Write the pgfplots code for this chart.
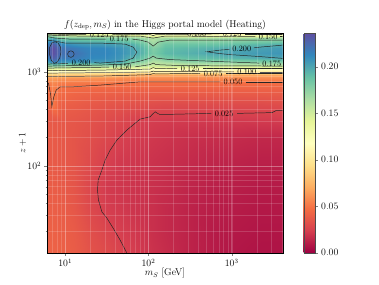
\documentclass[border=0pt,12pt]{standalone}
\usepackage{pgfplots}
\pgfplotsset{compat=1.18}
\pgfplotsset{
  cont/.style={black!85, line width=0.6pt, no markers},
}
\tikzset{lab/.style={font=\fontsize{10}{11}\selectfont, inner sep=0pt, text=black}}
\begin{document}
\begin{tikzpicture}
\useasboundingbox (0,0) rectangle (6.4in,4.8in);
\begin{axis}[
  at={(0.799in,0.533in)}, anchor=south west,
  scale only axis, width=3.975in, height=3.705in,
  xmode=log, ymode=log,
  xmin=6.1, xmax=4100, ymin=11.9, ymax=2570,
  axis on top,
  tick align=outside, xtick pos=bottom, ytick pos=left,
  major tick length=3.5pt, minor tick length=2pt,
  grid=both,
  major grid style={white, opacity=0.22, line width=0.5pt},
  minor grid style={white, opacity=0.16, line width=0.45pt},
  colormap={spectral}{rgb255=(158,1,66) rgb255=(213,62,79) rgb255=(244,109,67) rgb255=(253,174,97) rgb255=(254,224,139) rgb255=(255,255,191) rgb255=(230,245,152) rgb255=(171,221,164) rgb255=(102,194,165) rgb255=(50,136,189) rgb255=(94,79,162)},
  point meta min=0, point meta max=0.236,
  colorbar,
  colorbar style={
    at={(parent axis.north east)}, anchor=north west, xshift=0.236in,
    scale only axis, width=0.19in, height=3.705in,
    ytick={0,0.05,0.1,0.15,0.2},
    yticklabel style={/pgf/number format/.cd, fixed, fixed zerofill, precision=2},
    tick align=outside, major tick length=3.5pt,
    ytick pos=right, yticklabel pos=right,
    axis line style={black!70},
  },
  title={$f(z_{\mathrm{dep}}, m_S)$ in the Higgs portal model (Heating)},
  xlabel={$m_S$ [GeV]}, ylabel={$z+1$},
  every axis title/.style={at={(axis description cs:0.5,1.027)}, anchor=base},
  every axis x label/.style={at={(axis description cs:0.5,-0.105)}, anchor=base},
  every axis y label/.style={at={(axis description cs:-0.0928,0.5)}, rotate=90, anchor=base},
]
\addplot[surf, shader=interp, mesh/cols=16, point meta=explicit] coordinates {
(6.1,11.9)[0.042] (7.08,11.9)[0.042] (8.91,11.9)[0.041] (12.6,11.9)[0.039] (20.0,11.9)[0.034] (31.6,11.9)[0.030] (44.7,11.9)[0.027] (63.1,11.9)[0.024] (89.1,11.9)[0.021] (115,11.9)[0.019] (158,11.9)[0.017] (316,11.9)[0.013] (631,11.9)[0.010] (1259,11.9)[0.008] (2239,11.9)[0.007] (4100,11.9)[0.007]
(6.1,20)[0.041] (7.08,20)[0.041] (8.91,20)[0.040] (12.6,20)[0.038] (20.0,20)[0.032] (31.6,20)[0.027] (44.7,20)[0.024] (63.1,20)[0.022] (89.1,20)[0.020] (115,20)[0.018] (158,20)[0.016] (316,20)[0.013] (631,20)[0.010] (1259,20)[0.009] (2239,20)[0.008] (4100,20)[0.008]
(6.1,35.5)[0.040] (7.08,35.5)[0.040] (8.91,35.5)[0.039] (12.6,35.5)[0.036] (20.0,35.5)[0.029] (31.6,35.5)[0.0235] (44.7,35.5)[0.022] (63.1,35.5)[0.020] (89.1,35.5)[0.019] (115,35.5)[0.018] (158,35.5)[0.016] (316,35.5)[0.013] (631,35.5)[0.011] (1259,35.5)[0.010] (2239,35.5)[0.009] (4100,35.5)[0.009]
(6.1,63.1)[0.039] (7.08,63.1)[0.039] (8.91,63.1)[0.038] (12.6,63.1)[0.035] (20.0,63.1)[0.028] (31.6,63.1)[0.022] (44.7,63.1)[0.021] (63.1,63.1)[0.020] (89.1,63.1)[0.019] (115,63.1)[0.018] (158,63.1)[0.017] (316,63.1)[0.014] (631,63.1)[0.012] (1259,63.1)[0.011] (2239,63.1)[0.010] (4100,63.1)[0.010]
(6.1,112)[0.038] (7.08,112)[0.038] (8.91,112)[0.037] (12.6,112)[0.035] (20.0,112)[0.030] (31.6,112)[0.0245] (44.7,112)[0.022] (63.1,112)[0.021] (89.1,112)[0.020] (115,112)[0.019] (158,112)[0.018] (316,112)[0.016] (631,112)[0.014] (1259,112)[0.013] (2239,112)[0.012] (4100,112)[0.012]
(6.1,200)[0.038] (7.08,200)[0.038] (8.91,200)[0.037] (12.6,200)[0.035] (20.0,200)[0.032] (31.6,200)[0.028] (44.7,200)[0.0248] (63.1,200)[0.023] (89.1,200)[0.022] (115,200)[0.021] (158,200)[0.020] (316,200)[0.018] (631,200)[0.017] (1259,200)[0.016] (2239,200)[0.015] (4100,200)[0.015]
(6.1,316)[0.038] (7.08,316)[0.037] (8.91,316)[0.037] (12.6,316)[0.036] (20.0,316)[0.034] (31.6,316)[0.031] (44.7,316)[0.029] (63.1,316)[0.026] (89.1,316)[0.0245] (115,316)[0.0235] (158,316)[0.023] (316,316)[0.0225] (631,316)[0.0225] (1259,316)[0.0225] (2239,316)[0.023] (4100,316)[0.0235]
(6.1,447)[0.041] (7.08,447)[0.050] (8.91,447)[0.040] (12.6,447)[0.039] (20.0,447)[0.037] (31.6,447)[0.035] (44.7,447)[0.034] (63.1,447)[0.033] (89.1,447)[0.032] (115,447)[0.031] (158,447)[0.030] (316,447)[0.030] (631,447)[0.030] (1259,447)[0.030] (2239,447)[0.030] (4100,447)[0.031]
(6.1,631)[0.046] (7.08,631)[0.053] (8.91,631)[0.046] (12.6,631)[0.044] (20.0,631)[0.043] (31.6,631)[0.042] (44.7,631)[0.041] (63.1,631)[0.041] (89.1,631)[0.040] (115,631)[0.040] (158,631)[0.040] (316,631)[0.040] (631,631)[0.040] (1259,631)[0.040] (2239,631)[0.040] (4100,631)[0.040]
(6.1,759)[0.050] (7.08,759)[0.057] (8.91,759)[0.052] (12.6,759)[0.051] (20.0,759)[0.0505] (31.6,759)[0.050] (44.7,759)[0.049] (63.1,759)[0.048] (89.1,759)[0.047] (115,759)[0.047] (158,759)[0.047] (316,759)[0.047] (631,759)[0.047] (1259,759)[0.047] (2239,759)[0.047] (4100,759)[0.047]
(6.1,851)[0.063] (7.08,851)[0.066] (8.91,851)[0.063] (12.6,851)[0.062] (20.0,851)[0.062] (31.6,851)[0.061] (44.7,851)[0.060] (63.1,851)[0.059] (89.1,851)[0.058] (115,851)[0.058] (158,851)[0.058] (316,851)[0.058] (631,851)[0.058] (1259,851)[0.058] (2239,851)[0.058] (4100,851)[0.058]
(6.1,933)[0.082] (7.08,933)[0.084] (8.91,933)[0.081] (12.6,933)[0.080] (20.0,933)[0.080] (31.6,933)[0.078] (44.7,933)[0.075] (63.1,933)[0.072] (89.1,933)[0.068] (115,933)[0.068] (158,933)[0.068] (316,933)[0.068] (631,933)[0.068] (1259,933)[0.068] (2239,933)[0.068] (4100,933)[0.068]
(6.1,1000)[0.107] (7.08,1000)[0.108] (8.91,1000)[0.106] (12.6,1000)[0.105] (20.0,1000)[0.105] (31.6,1000)[0.104] (44.7,1000)[0.103] (63.1,1000)[0.100] (89.1,1000)[0.100] (115,1000)[0.100] (158,1000)[0.100] (316,1000)[0.100] (631,1000)[0.100] (1259,1000)[0.100] (2239,1000)[0.100] (4100,1000)[0.100]
(6.1,1072)[0.138] (7.08,1072)[0.140] (8.91,1072)[0.136] (12.6,1072)[0.135] (20.0,1072)[0.135] (31.6,1072)[0.133] (44.7,1072)[0.130] (63.1,1072)[0.125] (89.1,1072)[0.120] (115,1072)[0.120] (158,1072)[0.120] (316,1072)[0.120] (631,1072)[0.120] (1259,1072)[0.120] (2239,1072)[0.120] (4100,1072)[0.120]
(6.1,1148)[0.170] (7.08,1148)[0.175] (8.91,1148)[0.170] (12.6,1148)[0.165] (20.0,1148)[0.165] (31.6,1148)[0.165] (44.7,1148)[0.163] (63.1,1148)[0.158] (89.1,1148)[0.155] (115,1148)[0.148] (158,1148)[0.152] (316,1148)[0.152] (631,1148)[0.152] (1259,1148)[0.152] (2239,1148)[0.153] (4100,1148)[0.155]
(6.1,1259)[0.200] (7.08,1259)[0.215] (8.91,1259)[0.207] (12.6,1259)[0.205] (20.0,1259)[0.204] (31.6,1259)[0.204] (44.7,1259)[0.202] (63.1,1259)[0.180] (89.1,1259)[0.172] (115,1259)[0.160] (158,1259)[0.165] (316,1259)[0.173] (631,1259)[0.174] (1259,1259)[0.176] (2239,1259)[0.178] (4100,1259)[0.180]
(6.1,1413)[0.215] (7.08,1413)[0.230] (8.91,1413)[0.218] (12.6,1413)[0.218] (20.0,1413)[0.212] (31.6,1413)[0.211] (44.7,1413)[0.207] (63.1,1413)[0.196] (89.1,1413)[0.186] (115,1413)[0.172] (158,1413)[0.183] (316,1413)[0.190] (631,1413)[0.192] (1259,1413)[0.195] (2239,1413)[0.198] (4100,1413)[0.201]
(6.1,1585)[0.222] (7.08,1585)[0.236] (8.91,1585)[0.222] (12.6,1585)[0.222] (20.0,1585)[0.214] (31.6,1585)[0.213] (44.7,1585)[0.209] (63.1,1585)[0.202] (89.1,1585)[0.193] (115,1585)[0.182] (158,1585)[0.192] (316,1585)[0.196] (631,1585)[0.2005] (1259,1585)[0.203] (2239,1585)[0.205] (4100,1585)[0.207]
(6.1,1778)[0.222] (7.08,1778)[0.236] (8.91,1778)[0.221] (12.6,1778)[0.218] (20.0,1778)[0.213] (31.6,1778)[0.212] (44.7,1778)[0.208] (63.1,1778)[0.2015] (89.1,1778)[0.192] (115,1778)[0.179] (158,1778)[0.190] (316,1778)[0.193] (631,1778)[0.196] (1259,1778)[0.199] (2239,1778)[0.202] (4100,1778)[0.205]
(6.1,1995)[0.215] (7.08,1995)[0.230] (8.91,1995)[0.212] (12.6,1995)[0.207] (20.0,1995)[0.205] (31.6,1995)[0.204] (44.7,1995)[0.2015] (63.1,1995)[0.196] (89.1,1995)[0.186] (115,1995)[0.170] (158,1995)[0.185] (316,1995)[0.186] (631,1995)[0.187] (1259,1995)[0.190] (2239,1995)[0.193] (4100,1995)[0.196]
(6.1,2291)[0.190] (7.08,2291)[0.200] (8.91,2291)[0.185] (12.6,2291)[0.182] (20.0,2291)[0.181] (31.6,2291)[0.180] (44.7,2291)[0.179] (63.1,2291)[0.176] (89.1,2291)[0.170] (115,2291)[0.160] (158,2291)[0.168] (316,2291)[0.167] (631,2291)[0.167] (1259,2291)[0.168] (2239,2291)[0.169] (4100,2291)[0.170]
(6.1,2570)[0.150] (7.08,2570)[0.140] (8.91,2570)[0.130] (12.6,2570)[0.125] (20.0,2570)[0.125] (31.6,2570)[0.125] (44.7,2570)[0.122] (63.1,2570)[0.120] (89.1,2570)[0.115] (115,2570)[0.110] (158,2570)[0.105] (316,2570)[0.100] (631,2570)[0.100] (1259,2570)[0.100] (2239,2570)[0.100] (4100,2570)[0.100]
};
% contour 0.025
\addplot[cont] coordinates {(54.74,11.9) (45.74,16.2) (37.69,21.7) (31.67,27.8) (27.58,32.4) (25.11,43.2) (24.42,55.1) (24.90,70.5) (27.58,90.0) (30.22,115.0) (34.69,146.9) (41.75,187.7) (55.05,239.9) (79.51,314.0) (104.8,332.1) (110.8,350.5) (120.3,375.4) (127.2,363.7) (138.1,350.5) (240.3,354.8) (570.0,361.0)};
\addplot[cont] coordinates {(1160,361.0) (3055,368.1) (3412,386.6) (4100,386.6)};
% contour 0.050
\addplot[cont] coordinates {(6.1,758.3) (6.30,758.3) (6.70,565.0) (6.92,424.4) (7.28,538.1) (7.80,638.8) (8.71,692.7) (12.47,692.7) (26.32,722.2) (79.51,782.7) (417.7,782.7) (730,782.7)};
\addplot[cont] coordinates {(1480,782.7) (4100,782.7)};
% contour 0.075
\addplot[cont] coordinates {(6.1,889.1) (26.32,900.1) (104.8,933.7) (113.9,957) (123.7,950) (418,961.6)};
\addplot[cont] coordinates {(855,961.6) (4100,961.6)};
% contour 0.100
\addplot[cont] coordinates {(6.1,968.7) (26.32,980.6) (104.8,992.7) (113.9,1017) (123.7,1005) (1060,1000)};
\addplot[cont] coordinates {(2180,1000) (4100,1000)};
% contour 0.125
\addplot[cont] coordinates {(6.1,1030) (26.32,1042) (104.8,1069) (113.9,1108) (123.7,1082) (221,1087)};
\addplot[cont] coordinates {(453,1087) (4100,1087)};
% contour 0.150
\addplot[cont] coordinates {(6.1,1095) (15.14,1108) (33.8,1122)};
\addplot[cont] coordinates {(69,1130) (79.51,1150) (104.8,1193) (113.9,1238) (123.7,1193) (240.3,1164) (4100,1150)};
% contour 0.175 (lower)
\addplot[cont] coordinates {(6.1,1150) (26.32,1179) (52.52,1208) (79.51,1300) (104.8,1399) (113.9,1470) (123.7,1399) (182.2,1349) (725.6,1284) (2150,1238)};
% contour 0.200 left loop
\addplot[cont] coordinates {(6.1,2175) (7.59,2122) (10,2020) (26.32,2020) (52.52,1971) (65.52,1831) (72.57,1621) (65.52,1399) (52.52,1300) (26.32,1238) (22.4,1253)};
\addplot[cont] coordinates {(10.8,1223) (7.59,1215) (6.1,1208)};
% contour 0.225 loop and circle
\addplot[cont] coordinates {(7.59,2085) (8.24,2020) (8.78,1831) (8.88,1621) (8.59,1399) (8.01,1269) (7.38,1229) (6.79,1332) (6.48,1543) (6.52,1831) (6.98,2045) (7.59,2085)};
\addplot[cont] coordinates {(12.82,1543) (12.47,1459) (11.70,1424) (10.98,1459) (10.69,1543) (10.98,1633) (11.70,1673) (12.47,1633) (12.82,1543)};
% contour 0.200 right
\addplot[cont] coordinates {(4100,1923) (2193,1831) (1850,1800)};
\addplot[cont] coordinates {(935,1731) (725.6,1702) (502.3,1633) (725.6,1562) (957,1524) (2193,1452) (4100,1389)};
% contour 0.175 (upper)
\addplot[cont] coordinates {(6.1,2369) (7.59,2284) (11.48,2228) (31,2228)};
\addplot[cont] coordinates {(64,2228) (79.51,2175) (99.2,2070) (113.9,1877) (130.8,2070) (182.2,2175) (4100,2175)};
% contour 0.150 (upper)
\addplot[cont] coordinates {(6.1,2457) (15.14,2398) (79.51,2398) (113.9,2284) (158.6,2398) (1920,2369)};
\addplot[cont] coordinates {(3850,2369) (4100,2369)};
% contour 0.125 (upper)
\addplot[cont] coordinates {(6.1,2518) (17.8,2488)};
\addplot[cont] coordinates {(36.8,2488) (104.8,2488) (113.9,2427) (123.7,2488) (710,2530)};
\addplot[cont] coordinates {(1440,2530) (4100,2530)};
% contour 0.100 (upper)
\addplot[cont] coordinates {(158.6,2549) (268,2549)};
\addplot[cont] coordinates {(548,2549) (4100,2549)};
% labels
\node[lab] at (axis cs:810.6,361) {0.025};
\node[lab] at (axis cs:1039,782.7) {0.050};
\node[lab] at (axis cs:598,961.6) {0.075};
\node[lab] at (axis cs:1518,1000) {0.100};
\node[lab] at (axis cs:316.7,1087) {0.125};
\node[lab] at (axis cs:48.34,1130) {0.150};
\node[lab] at (axis cs:3030,1229) {0.175};
\node[lab] at (axis cs:15.56,1245) {0.200};
\node[lab] at (axis cs:1322,1774) {0.200};
\node[lab] at (axis cs:44.5,2228) {0.175};
\node[lab] at (axis cs:2736,2358) {0.150};
\node[lab] at (axis cs:25.6,2488) {0.125};
\node[lab] at (axis cs:1011,2549) {0.125};
\node[lab] at (axis cs:381,2530) {0.100};
\end{axis}
\end{tikzpicture}
\end{document}
